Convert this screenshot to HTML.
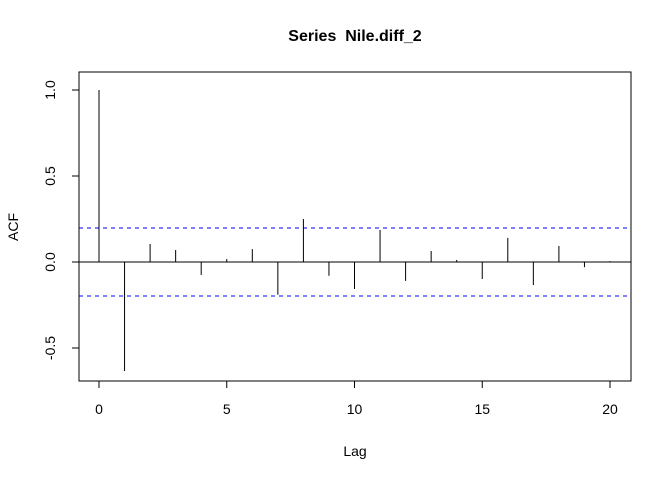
<!DOCTYPE html>
<html><head><meta charset="utf-8"><style>
body{margin:0;background:#fff;}
svg text{font-family:"Liberation Sans",sans-serif;fill:#000;}
</style></head><body>
<svg id="chart" width="672" height="480" xmlns="http://www.w3.org/2000/svg">
<rect width="672" height="480" fill="#fff"/>
<text x="355" y="41" font-size="16" font-weight="bold" text-anchor="middle" style="white-space:pre">Series  Nile.diff_2</text>
<rect x="79" y="72" width="552" height="309" fill="none" stroke="#000" stroke-width="1"/>
<text x="355" y="456" font-size="14" text-anchor="middle">Lag</text>
<text x="18" y="227" font-size="14" text-anchor="middle" transform="rotate(-90 18 227)">ACF</text>
<g id="marks"></g>
</svg>
<script>
const lags=[0,1,2,3,4,5,6,7,8,9,10,11,12,13,14,15,16,17,18,19,20];
const acfValues=[1.0,-0.634,0.105,0.07,-0.075,0.017,0.075,-0.19,0.25,-0.08,-0.157,0.186,-0.11,0.064,0.012,-0.099,0.14,-0.134,0.093,-0.03,0.005];
const xTicks=[0,5,10,15,20];
const yTicks=[-0.5,0.0,0.5,1.0];
const yTickLabels=["-0.5","0.0","0.5","1.0"];
const ciBound=0.198;
const NS="http://www.w3.org/2000/svg";
const x=v=>99+v*(610-99)/20;
const y=v=>262-v*172;
const g=document.getElementById('marks');
function mk(t,a){const e=document.createElementNS(NS,t);for(const k in a)e.setAttribute(k,a[k]);g.appendChild(e);return e;}
let e=mk('line',{x1:79,x2:631,y1:y(0),y2:y(0),stroke:'#000'});


[ciBound,-ciBound].forEach((c,i)=>{const l=mk('line',{x1:79,x2:631,y1:y(c),y2:y(c),stroke:'#0000ff','stroke-dasharray':'4,4'});

});
lags.forEach((lg,i)=>{const l=mk('line',{x1:x(lg),x2:x(lg),y1:y(0),y2:y(acfValues[i]),stroke:'#000'});

});
mk('line',{x1:x(xTicks[0]),x2:x(xTicks[xTicks.length-1]),y1:381,y2:381,stroke:'#000'});
xTicks.forEach(t=>{mk('line',{x1:x(t),x2:x(t),y1:381,y2:388,stroke:'#000'});
const tx=mk('text',{x:x(t),y:414,'font-size':14,'text-anchor':'middle'});tx.textContent=t;

});
mk('line',{x1:79,x2:79,y1:y(yTicks[0]),y2:y(yTicks[yTicks.length-1]),stroke:'#000'});
yTicks.forEach((t,i)=>{mk('line',{x1:72,x2:79,y1:y(t),y2:y(t),stroke:'#000'});
const tx=mk('text',{x:0,y:0,'font-size':14,'text-anchor':'middle',transform:`translate(55 ${y(t)}) rotate(-90)`});tx.textContent=yTickLabels[i];

});
</script>
</body></html>
